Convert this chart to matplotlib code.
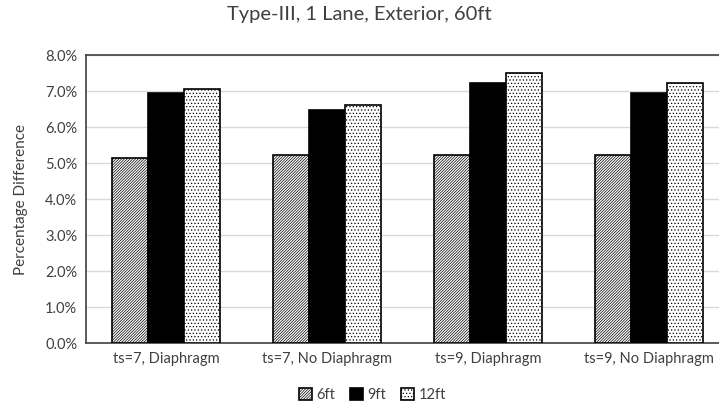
import numpy as np
import matplotlib
matplotlib.use("Agg")
import matplotlib.pyplot as plt
from matplotlib.ticker import PercentFormatter

plt.rcParams['font.family'] = ['Lato', 'DejaVu Sans']
plt.rcParams['hatch.linewidth'] = 0.5

categories = ["ts=7, Diaphragm", "ts=7, No Diaphragm", "ts=9, Diaphragm", "ts=9, No Diaphragm"]
series_names = ["6ft", "9ft", "12ft"]
vals_6ft = [5.15, 5.24, 5.24, 5.24]
vals_9ft = [6.95, 6.49, 7.23, 6.95]
vals_12ft = [7.06, 6.63, 7.51, 7.23]

fig = plt.figure(figsize=(7.19, 4.15), dpi=100)
# plot area runs a bit past the right edge of the image, like the source
ax = fig.add_axes([0.119, 0.173, 0.895, 0.694])

x = np.arange(len(categories))
w = 0.224
styles = [
    dict(color="white", hatch="////////////"),
    dict(color="black", hatch=None),
    dict(color="white", hatch="....."),
]
for i, (name, vals) in enumerate(zip(series_names, [vals_6ft, vals_9ft, vals_12ft])):
    ax.bar(x + (i - 1) * w, vals, w, label=name, facecolor=styles[i]["color"],
           edgecolor="black", linewidth=1.2, hatch=styles[i]["hatch"], zorder=3)

ax.set_xlim(-0.5, len(categories) - 0.5)
ax.set_ylim(0, 8)
ax.set_yticks(np.arange(0, 8.01, 1))
ax.yaxis.set_major_formatter(PercentFormatter(decimals=1))
ax.set_xticks(x)
ax.set_xticklabels(categories)
ax.tick_params(length=0, labelsize=10.5, colors="#404040", pad=6)
ax.grid(axis="y", color="#d9d9d9", linewidth=1, zorder=0)
for s in ax.spines.values():
    s.set_color("#404040")
    s.set_linewidth(1.2)
ax.spines["right"].set_visible(False)

ax.set_ylabel("Percentage Difference", fontsize=11, color="#404040", labelpad=12)
fig.suptitle("Type-III, 1 Lane, Exterior, 60ft", fontsize=14.5, color="#404040", y=0.985)
fig.legend(loc="lower center", ncol=3, frameon=False, fontsize=10.5,
           handlelength=0.9, handleheight=0.9, handletextpad=0.3, columnspacing=1.0,
           bbox_to_anchor=(0.518, 0.0), labelcolor="#404040")

fig.savefig("out.png", dpi=100)
